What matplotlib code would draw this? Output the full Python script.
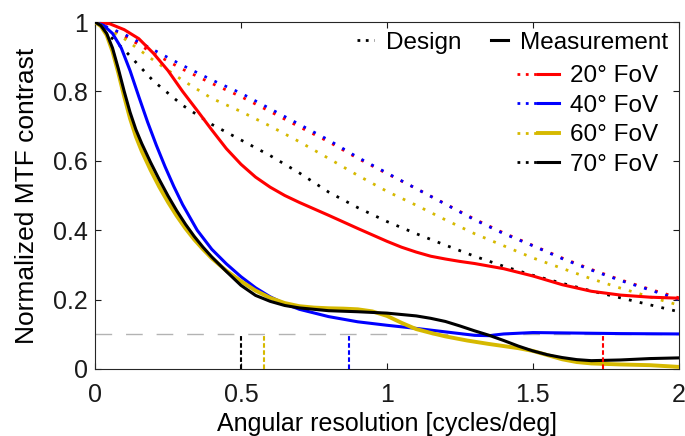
"""MTF curves: design vs measurement for several fields of view."""

import matplotlib

matplotlib.use("Agg")
import matplotlib.pyplot as plt  # noqa: E402
from matplotlib.legend_handler import HandlerTuple  # noqa: E402
from matplotlib.lines import Line2D  # noqa: E402
from matplotlib.ticker import FormatStrFormatter  # noqa: E402

plt.rcParams["font.family"] = ["Liberation Sans", "DejaVu Sans"]

# ---- data -------------------------------------------------------------
fov_labels = ["20° FoV", "40° FoV", "60° FoV", "70° FoV"]
fov_colors = ["#ff0000", "#0000ff", "#d6b900", "#000000"]

# design curves (dotted), common x grid
design_x = [0, 0.1, 0.2, 0.3, 0.4, 0.5, 0.6, 0.7, 0.8, 0.9, 1.0,
            1.1, 1.2, 1.3, 1.4, 1.5, 1.6, 1.7, 1.8, 1.9, 2.0]
design_20 = [1, 0.96, 0.91, 0.864, 0.823, 0.785, 0.742, 0.698, 0.655, 0.607, 0.563,
             0.52, 0.476, 0.432, 0.392, 0.356, 0.32, 0.287, 0.257, 0.23, 0.205]
design_40 = [1, 0.965, 0.92, 0.875, 0.833, 0.795, 0.75, 0.705, 0.66, 0.61, 0.565,
             0.52, 0.475, 0.43, 0.39, 0.355, 0.318, 0.285, 0.255, 0.228, 0.2]
design_60 = [1, 0.952, 0.89, 0.832, 0.78, 0.742, 0.70, 0.655, 0.607, 0.558, 0.512,
             0.472, 0.43, 0.39, 0.355, 0.32, 0.29, 0.26, 0.233, 0.208, 0.184]
design_70 = [1, 0.92, 0.83, 0.76, 0.705, 0.66, 0.615, 0.565, 0.51, 0.465, 0.425,
             0.39, 0.357, 0.325, 0.296, 0.27, 0.247, 0.225, 0.205, 0.185, 0.165]

# measured curves (solid)
meas_20_x = [0, 0.05, 0.1, 0.15, 0.2, 0.25, 0.3, 0.35, 0.4, 0.45, 0.5, 0.55, 0.6,
             0.65, 0.7, 0.8, 0.9, 1.0, 1.05, 1.1, 1.15, 1.2, 1.25, 1.3, 1.4, 1.5,
             1.6, 1.7, 1.8, 1.9, 2.0]
meas_20 = [1, 0.995, 0.978, 0.952, 0.91, 0.86, 0.8, 0.745, 0.689, 0.635, 0.59, 0.553,
           0.524, 0.5, 0.48, 0.443, 0.405, 0.368, 0.351, 0.337, 0.325, 0.317, 0.31,
           0.304, 0.289, 0.268, 0.243, 0.224, 0.213, 0.207, 0.204]

meas_40_x = [0, 0.03, 0.06, 0.09, 0.12, 0.15, 0.18, 0.21, 0.24, 0.27, 0.3, 0.35,
             0.4, 0.45, 0.5, 0.55, 0.6, 0.65, 0.7, 0.8, 0.9, 1.0, 1.1, 1.2, 1.3,
             1.35, 1.4, 1.5, 1.6, 1.8, 2.0]
meas_40 = [1, 0.99, 0.967, 0.925, 0.86, 0.785, 0.712, 0.645, 0.583, 0.526, 0.474, 0.40,
           0.345, 0.303, 0.266, 0.234, 0.208, 0.188, 0.172, 0.151, 0.136, 0.126, 0.117,
           0.107, 0.097, 0.096, 0.101, 0.105, 0.104, 0.102, 0.101]

meas_60_x = [0, 0.02, 0.04, 0.06, 0.08, 0.1, 0.12, 0.14, 0.16, 0.19, 0.22, 0.25,
             0.28, 0.31, 0.34, 0.37, 0.4, 0.45, 0.5, 0.55, 0.6, 0.65, 0.7, 0.75,
             0.8, 0.85, 0.9, 0.95, 1.0, 1.05, 1.1, 1.15, 1.2, 1.275, 1.35, 1.4,
             1.45, 1.5, 1.55, 1.6, 1.65, 1.7, 1.8, 1.9, 2.0]
meas_60 = [1, 0.988, 0.962, 0.915, 0.853, 0.785, 0.722, 0.67, 0.628, 0.574, 0.525,
           0.481, 0.441, 0.405, 0.373, 0.345, 0.319, 0.283, 0.253, 0.226, 0.205, 0.19,
           0.181, 0.177, 0.175, 0.174, 0.172, 0.166, 0.153, 0.133, 0.115, 0.104,
           0.094, 0.082, 0.072, 0.066, 0.06, 0.052, 0.04, 0.028, 0.02, 0.016, 0.013,
           0.011, 0.006]

meas_70_x = [0, 0.02, 0.04, 0.06, 0.08, 0.1, 0.12, 0.14, 0.16, 0.19, 0.22, 0.25,
             0.28, 0.31, 0.34, 0.37, 0.4, 0.45, 0.5, 0.55, 0.6, 0.65, 0.7, 0.8,
             0.9, 1.0, 1.05, 1.1, 1.15, 1.2, 1.25, 1.3, 1.35, 1.4, 1.45, 1.5,
             1.55, 1.6, 1.65, 1.7, 1.8, 1.9, 2.0]
meas_70 = [1, 0.99, 0.967, 0.925, 0.865, 0.80, 0.74, 0.69, 0.65, 0.596, 0.546, 0.499,
           0.456, 0.417, 0.382, 0.351, 0.323, 0.281, 0.241, 0.212, 0.195, 0.183, 0.176,
           0.168, 0.165, 0.161, 0.157, 0.153, 0.146, 0.137, 0.124, 0.11, 0.097,
           0.082, 0.066, 0.052, 0.041, 0.033, 0.027, 0.024, 0.026, 0.03, 0.032]

# resolution where each measurement hits the 0.1 threshold
threshold = 0.1
cutoff_x = [1.74, 0.87, 0.58, 0.50]

design = [design_20, design_40, design_60, design_70]
meas = [(meas_20_x, meas_20), (meas_40_x, meas_40),
        (meas_60_x, meas_60), (meas_70_x, meas_70)]

# ---- figure ------------------------------------------------------------
fig = plt.figure(figsize=(6.85, 4.36), dpi=100)
ax = fig.add_axes([0.1387, 0.1537, 0.8524, 0.7958])

dot = (0, (1, 3))
meas_lw = [2.2, 2.2, 2.8, 2.2]

ax.axhline(threshold, color="#b3b3b3", lw=1, dashes=(12, 10), zorder=1)

for ys, c in zip(design, fov_colors):
    ax.plot(design_x, ys, color=c, lw=2, linestyle=dot, zorder=2)

for (xs, ys), c, lw in zip(meas, fov_colors, meas_lw):
    ax.plot(xs, ys, color=c, lw=lw, zorder=3)

for xc, c in zip(cutoff_x, fov_colors):
    ax.plot([xc, xc], [0, threshold], color=c, lw=1.5, dashes=(2.2, 1.2), zorder=4)

ax.set_xlim(0, 2)
ax.set_ylim(0, 1)
ax.set_xticks([0, 0.5, 1, 1.5, 2])
ax.set_yticks([0, 0.2, 0.4, 0.6, 0.8, 1])
ax.xaxis.set_major_formatter(FormatStrFormatter("%g"))
ax.yaxis.set_major_formatter(FormatStrFormatter("%g"))
ax.tick_params(direction="in", top=True, right=True, length=4,
               width=0.8, labelsize=18, colors="0.1")
ax.tick_params(axis="x", pad=10)
ax.tick_params(axis="y", pad=5)
for s in ax.spines.values():
    s.set_linewidth(0.8)
    s.set_color("0.15")

ax.set_xlabel("Angular resolution [cycles/deg]", fontsize=18, labelpad=4)
ax.set_ylabel("Normalized MTF contrast", fontsize=19, labelpad=10)

# header legend: line styles
head = ax.legend(
    [Line2D([], [], color="k", lw=2, linestyle=(0, (1, 2))),
     Line2D([], [], color="k", lw=2.2)],
    ["Design", "Measurement"],
    ncol=2, loc="upper right", bbox_to_anchor=(0.982, 0.972), frameon=False,
    fontsize=17.5, handlelength=0.7, handletextpad=0.5, columnspacing=1.2,
    borderpad=0, borderaxespad=0,
)
ax.add_artist(head)

# FoV legend: dotted + solid pair per field of view
pairs = [(Line2D([], [], color=c, lw=2, linestyle=(0, (1, 2))),
          Line2D([], [], color=c, lw=lw)) for c, lw in zip(fov_colors, meas_lw)]
ax.legend(
    pairs, fov_labels, handler_map={tuple: HandlerTuple(ndivide=None, pad=0)},
    loc="upper right", bbox_to_anchor=(0.965, 0.876), frameon=False,
    fontsize=17.5, handlelength=1.75, handletextpad=0.45, labelspacing=0.31,
    borderpad=0, borderaxespad=0,
)

fig.savefig("out.png", dpi=100)
